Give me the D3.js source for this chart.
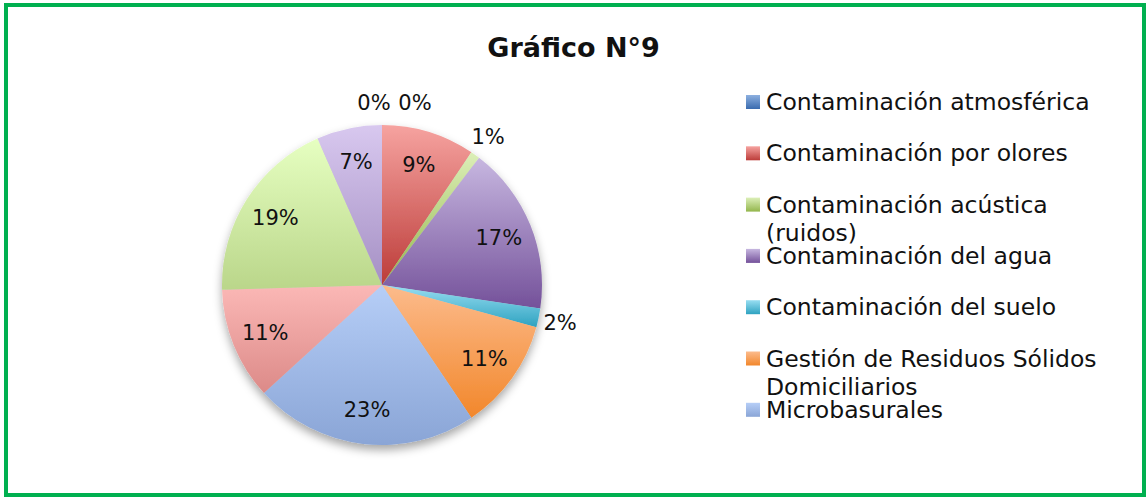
<!DOCTYPE html>
<html>
<head>
<meta charset="utf-8">
<script src="https://cdn.jsdelivr.net/npm/d3@7"></script>
<style>
  body { margin: 0; background: #fff; }
  text { font-family: "DejaVu Sans", sans-serif; fill: #111; }
</style>
</head>
<body>
<svg id="chart" width="1147" height="497"></svg>
<script>
// data (counts, shown as percentages)
const categories = [
  'Contaminación atmosférica',
  'Contaminación por olores',
  'Contaminación acústica (ruidos)',
  'Contaminación del agua',
  'Contaminación del suelo',
  'Gestión de Residuos Sólidos Domiciliarios',
  'Microbasurales',
  'Categoría 8',
  'Categoría 9',
  'Categoría 10',
  'Categoría 11'
];
const values = [0, 10, 1, 18, 2, 12, 24, 12, 20, 7, 0];
const legendShown = 7; // the legend in the original is cut after 7 entries
const title = 'Gráfico N°9';

// gradient stops (top, bottom) per slice
const colorsTop = ['#8db0e0', '#f6a3a0', '#dcefb8', '#c7b7e0', '#98def2', '#fcbb8c', '#b6cef7', '#fbb8b6', '#e6ffc1', '#d8c8ef', '#c5ecf7'];
const colorsBottom = ['#3a6baf', '#bc3c39', '#93b64c', '#74519a', '#2ea2c0', '#f2872b', '#8aa5d6', '#dc8a88', '#bad68a', '#a590c4', '#8fd0e2'];

function drawChart() {
  const svg = d3.select('#chart');
  const width = 1147, height = 497;
  const cx = 382, cy = 285, radius = 160;

  const defs = svg.append('defs');

  const shadow = defs.append('filter')
    .attr('id', 'shadow')
    .attr('x', '-20%').attr('y', '-20%')
    .attr('width', '140%').attr('height', '140%');
  shadow.append('feDropShadow')
    .attr('dx', 0).attr('dy', 5)
    .attr('stdDeviation', 5)
    .attr('flood-color', '#000')
    .attr('flood-opacity', 0.35);

  categories.forEach((c, i) => {
    const g = defs.append('linearGradient')
      .attr('id', 'grad' + i)
      .attr('x1', 0).attr('y1', 0).attr('x2', 0).attr('y2', 1);
    g.append('stop').attr('offset', '0%').attr('stop-color', colorsTop[i]);
    g.append('stop').attr('offset', '100%').attr('stop-color', colorsBottom[i]);
  });

  // green frame
  svg.append('rect')
    .attr('x', 6).attr('y', 5)
    .attr('width', width - 9).attr('height', height - 7)
    .attr('fill', 'none')
    .attr('stroke', '#00b050')
    .attr('stroke-width', 4);
  svg.append('line')
    .attr('x1', 5).attr('x2', 5)
    .attr('y1', 3).attr('y2', height)
    .attr('stroke', '#00b050')
    .attr('stroke-width', 2);

  svg.append('text')
    .attr('x', width / 2)
    .attr('y', 57)
    .attr('text-anchor', 'middle')
    .style('font-size', '27px')
    .style('font-weight', 'bold')
    .text(title);

  const total = d3.sum(values);
  const pie = d3.pie().sort(null).value(d => d);
  const arcs = pie(values);

  const arc = d3.arc().innerRadius(0).outerRadius(radius);
  const inner = d3.arc().innerRadius(126).outerRadius(126);
  const outer = d3.arc().innerRadius(radius + 22).outerRadius(radius + 22);

  const g = svg.append('g')
    .attr('transform', `translate(${cx}, ${cy})`);

  g.append('g')
    .attr('filter', 'url(#shadow)')
    .selectAll('path')
    .data(arcs)
    .join('path')
      .attr('d', arc)
      .attr('fill', (d, i) => `url(#grad${i})`);

  const zeroIdx = values.map((v, i) => v === 0 ? i : -1).filter(i => i >= 0);

  g.selectAll('text.label')
    .data(arcs)
    .join('text')
      .attr('class', 'label')
      .attr('transform', d => {
        const small = d.data / total < 0.03;
        const p = small ? outer.centroid(d) : inner.centroid(d);
        return `translate(${p[0]}, ${p[1]})`;
      })
      .attr('dx', (d, i) => {
        if (d.data !== 0) return 0;
        return i === zeroIdx[0] ? 33 : -8;
      })
      .attr('dy', '0.35em')
      .attr('text-anchor', 'middle')
      .style('font-size', '21px')
      .text(d => Math.round(d.data / total * 100) + '%');

  // legend
  const maxWidth = 345;
  const legend = svg.append('g')
    .attr('transform', 'translate(746, 110)');

  const items = legend.selectAll('g.item')
    .data(categories.slice(0, legendShown))
    .join('g')
      .attr('class', 'item')
      .attr('transform', (d, i) => `translate(0, ${i * 51.3})`);

  items.append('rect')
    .attr('x', 0).attr('y', -15)
    .attr('width', 14).attr('height', 14)
    .attr('fill', (d, i) => `url(#grad${i})`);

  items.each(function(d) {
    const t = d3.select(this).append('text')
      .attr('x', 20)
      .style('font-size', '23.5px');
    const words = d.split(' ');
    let line = [];
    let lineNo = 0;
    let tspan = t.append('tspan').attr('x', 20).attr('y', 0);
    words.forEach(w => {
      line.push(w);
      tspan.text(line.join(' '));
      if (tspan.node().getComputedTextLength() > maxWidth && line.length > 1) {
        line.pop();
        tspan.text(line.join(' '));
        line = [w];
        lineNo++;
        tspan = t.append('tspan').attr('x', 20).attr('y', lineNo * 28).text(w);
      }
    });
  });
}

drawChart();
</script>
</body>
</html>
